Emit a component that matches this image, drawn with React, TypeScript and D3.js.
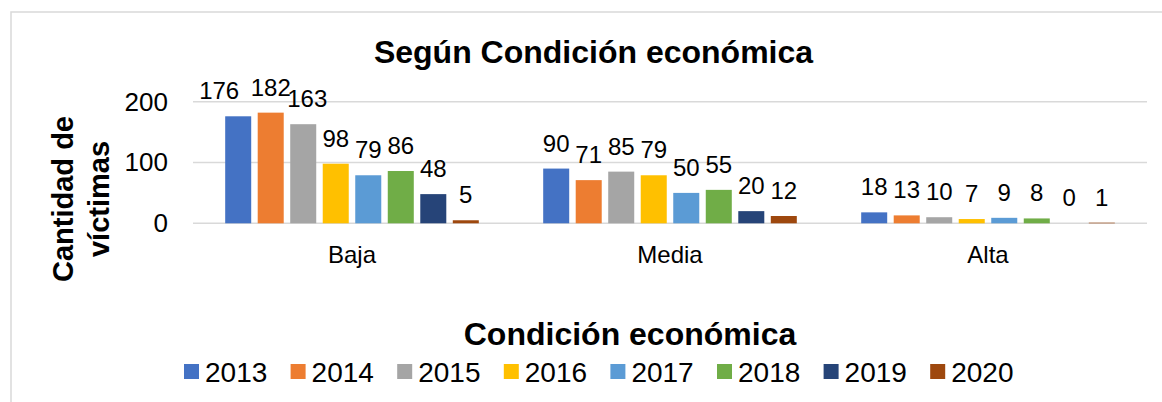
import React, { useEffect, useRef } from "react";
import * as d3 from "d3";

const categories = ["Baja", "Media", "Alta"];
const years = ["2013", "2014", "2015", "2016", "2017", "2018", "2019", "2020"];
const v2013 = [176, 90, 18];
const v2014 = [182, 71, 13];
const v2015 = [163, 85, 10];
const v2016 = [98, 79, 7];
const v2017 = [79, 50, 9];
const v2018 = [86, 55, 8];
const v2019 = [48, 20, 0];
const v2020 = [5, 12, 1];
const yTicks = [0, 100, 200];
const colors = ["#4472C4", "#ED7D31", "#A5A5A5", "#FFC000", "#5B9BD5", "#70AD47", "#264478", "#9E480E"];

// labels that were pushed aside to avoid overlapping (as in the original)
const labelNudge: Record<string, number> = { "Baja-2013": -19, "Baja-2015": 4 };

const FONT = "'Liberation Sans', Arial, sans-serif";

export default function App() {
  const ref = useRef<SVGSVGElement>(null);

  useEffect(() => {
    const series = [v2013, v2014, v2015, v2016, v2017, v2018, v2019, v2020];
    const rows = years.map((year, i) => ({ year, values: series[i], color: colors[i] }));

    const svg = d3.select(ref.current);
    svg.selectAll("*").remove();

    // chart border (only left / top visible in the crop)
    svg.append("path")
      .attr("d", "M11,402 L11,12 L1162,12")
      .attr("fill", "none")
      .attr("stroke", "#d9d9d9")
      .attr("stroke-width", 1.5);

    const plotLeft = 193, plotRight = 1147;
    const x0 = d3.scaleBand().domain(categories).range([plotLeft, plotRight])
      .paddingInner(0.182).paddingOuter(0.091);
    const x1 = d3.scaleBand().domain(years).range([0, x0.bandwidth()])
      .paddingInner(0.2).paddingOuter(0.1);
    const y = d3.scaleLinear().domain([0, 200]).range([223.3, 101.7]);

    // gridlines
    svg.append("g")
      .selectAll("line")
      .data(yTicks)
      .join("line")
      .attr("x1", plotLeft)
      .attr("x2", plotRight)
      .attr("y1", (d) => y(d))
      .attr("y2", (d) => y(d))
      .attr("stroke", "#d9d9d9")
      .attr("stroke-width", 1.5);

    // y axis labels
    const yAxis = svg.append("g")
      .attr("transform", `translate(${plotLeft},0)`)
      .call(d3.axisLeft(y).tickValues(yTicks).tickSize(0).tickPadding(25));
    yAxis.select(".domain").remove();
    yAxis.selectAll("text")
      .attr("font-family", FONT)
      .attr("font-size", 26)
      .attr("fill", "#000");

    // x axis labels
    const xAxis = svg.append("g")
      .attr("transform", `translate(0,${y(0)})`)
      .call(d3.axisBottom(x0).tickSize(0).tickPadding(23));
    xAxis.select(".domain").remove();
    xAxis.selectAll("text")
      .attr("font-family", FONT)
      .attr("font-size", 24)
      .attr("fill", "#000");

    // bars
    const groups = svg.append("g")
      .selectAll("g")
      .data(rows)
      .join("g")
      .attr("fill", (d) => d.color);

    groups.selectAll("rect")
      .data((d) => d.values.map((v, i) => ({ v, cat: categories[i], year: d.year })))
      .join("rect")
      .attr("x", (d) => (x0(d.cat) as number) + (x1(d.year) as number))
      .attr("y", (d) => y(d.v))
      .attr("width", x1.bandwidth())
      .attr("height", (d) => y(0) - y(d.v));

    // data labels
    groups.selectAll("text")
      .data((d) => d.values.map((v, i) => ({ v, cat: categories[i], year: d.year })))
      .join("text")
      .attr("x", (d) => (x0(d.cat) as number) + (x1(d.year) as number) + x1.bandwidth() / 2
        + (labelNudge[`${d.cat}-${d.year}`] || 0))
      .attr("y", (d) => y(d.v) - 17)
      .attr("text-anchor", "middle")
      .attr("font-family", FONT)
      .attr("font-size", 24)
      .attr("fill", "#000")
      .text((d) => d.v);

    // title
    svg.append("text")
      .attr("x", 593.5)
      .attr("y", 63)
      .attr("text-anchor", "middle")
      .attr("font-family", FONT)
      .attr("font-size", 32)
      .attr("font-weight", "bold")
      .text("Según Condición económica");

    // x axis title
    svg.append("text")
      .attr("x", 630)
      .attr("y", 345)
      .attr("text-anchor", "middle")
      .attr("font-family", FONT)
      .attr("font-size", 32)
      .attr("font-weight", "bold")
      .text("Condición económica");

    // y axis title, two lines
    const yTitle = svg.append("text")
      .attr("transform", "translate(73,199) rotate(-90)")
      .attr("text-anchor", "middle")
      .attr("font-family", FONT)
      .attr("font-size", 29)
      .attr("font-weight", "bold");
    yTitle.append("tspan").attr("x", 0).attr("y", 0).text("Cantidad de");
    yTitle.append("tspan").attr("x", 0).attr("y", 36).text("víctimas");

    // legend
    const legend = svg.append("g")
      .selectAll("g")
      .data(rows)
      .join("g")
      .attr("transform", (d, i) => `translate(${184 + i * 106.6},364)`);
    legend.append("rect")
      .attr("width", 15)
      .attr("height", 15)
      .attr("fill", (d) => d.color);
    legend.append("text")
      .attr("x", 21)
      .attr("y", 17.5)
      .attr("font-family", FONT)
      .attr("font-size", 28)
      .attr("fill", "#000")
      .text((d) => d.year);
  }, []);

  return (
    <svg
      ref={ref}
      width={1162}
      height={402}
      style={{ position: "absolute", left: 0, top: 0, background: "#fff" }}
    />
  );
}
